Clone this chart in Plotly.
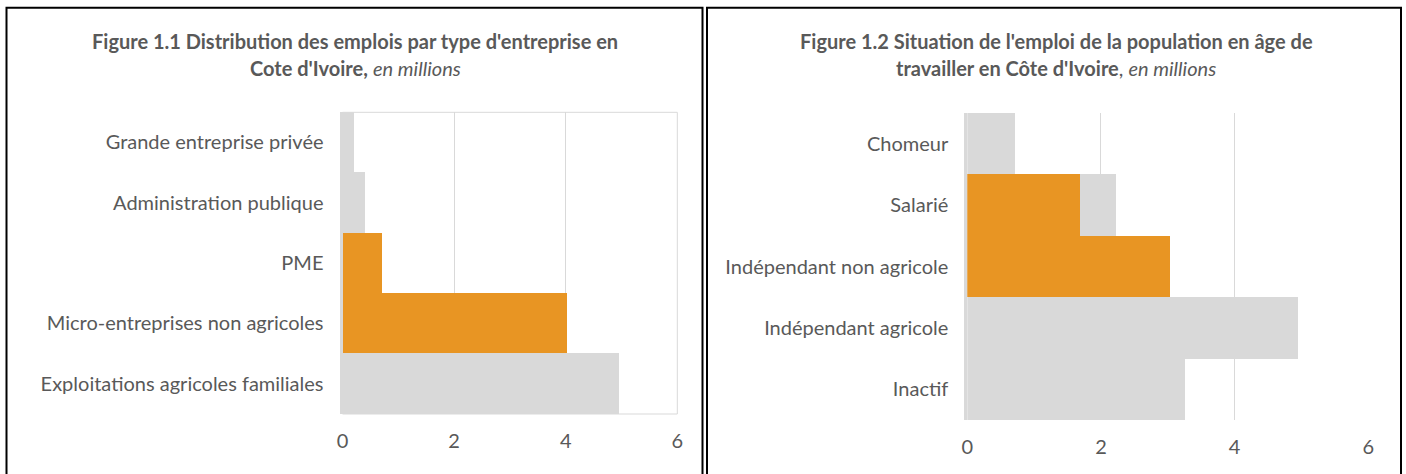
import plotly.graph_objects as go

# ---- data ----
cats1 = ["Grande entreprise privée", "Administration publique", "PME",
         "Micro-entreprises non agricoles", "Exploitations agricoles familiales"]
total1 = [0.19, 0.40, 0.69, 4.02, 4.95]
highlight1 = [None, None, 0.69, 4.02, None]

cats2 = ["Chomeur", "Salarié", "Indépendant non agricole", "Indépendant agricole", "Inactif"]
total2 = [0.72, 2.23, 3.03, 4.95, 3.26]
highlight2 = [None, 1.69, 3.03, None, None]

xticks = [0, 2, 4, 6]

title1_l1 = "<b>Figure 1.1 Distribution des emplois par type d'entreprise en</b>"
title1_l2 = "<b>Cote d'Ivoire,</b> <i>en millions</i>"
title2_l1 = "<b>Figure 1.2 Situation de l'emploi de la population en âge de</b>"
title2_l2 = "<b>travailler en Côte d'Ivoire</b>, <i>en millions</i>"

# ---- style ----
W, H = 1406, 474
GRAY = "#D9D9D9"
ORANGE = "#E89523"
TXT = "#595959"
FONT = "Lato, sans-serif"

def px(x):
    return x / W

def py(y):
    return 1 - y / H

fig = go.Figure()

fig.add_trace(go.Bar(y=cats1, x=total1, orientation="h", marker=dict(color=GRAY, line=dict(width=0)),
                     xaxis="x", yaxis="y", showlegend=False, hoverinfo="x+y"))
fig.add_trace(go.Bar(y=cats1, x=highlight1, orientation="h", marker=dict(color=ORANGE, line=dict(width=0)),
                     xaxis="x", yaxis="y", showlegend=False, hoverinfo="x+y"))
fig.add_trace(go.Bar(y=cats2, x=total2, orientation="h", marker=dict(color=GRAY, line=dict(width=0)),
                     xaxis="x2", yaxis="y2", showlegend=False, hoverinfo="x+y"))
fig.add_trace(go.Bar(y=cats2, x=highlight2, orientation="h", marker=dict(color=ORANGE, line=dict(width=0)),
                     xaxis="x2", yaxis="y2", showlegend=False, hoverinfo="x+y"))

xcommon = dict(range=[0, 6], tickvals=xticks, showgrid=True, gridcolor=GRAY, gridwidth=1,
               zeroline=False, showline=False, ticks="", tickfont=dict(size=20, color=TXT, family=FONT),
               ticklabelstandoff=13, fixedrange=True, automargin=False)
ycommon = dict(autorange="reversed", showgrid=False, zeroline=False, ticks="",
               showline=True, linecolor=GRAY, linewidth=3, layer="above traces",
               tickfont=dict(size=20, color=TXT, family=FONT), ticklabelstandoff=12,
               fixedrange=True, automargin=False)

fig.update_layout(
    template="none",
    width=W, height=H,
    margin=dict(l=0, r=0, t=0, b=0, pad=0),
    paper_bgcolor="white", plot_bgcolor="white",
    barmode="overlay", bargap=0,
    font=dict(family=FONT, color=TXT),
    xaxis=dict(domain=[px(342.5), px(677.3)], anchor="y", **xcommon),
    yaxis=dict(domain=[py(414), py(112.3)], anchor="x", **ycommon),
    xaxis2=dict(domain=[px(967.3), px(1368.3)], anchor="y2", **xcommon),
    yaxis2=dict(domain=[py(420), py(113)], anchor="x2", **ycommon),
)

# plot-area box of the left chart
fig.add_shape(type="rect", xref="x domain", yref="y domain", x0=0, x1=1, y0=0, y1=1,
              line=dict(color=GRAY, width=1), layer="above")

# panel borders
for x0, x1 in [(6.5, 702.5), (707, 1401)]:
    fig.add_shape(type="rect", xref="paper", yref="paper", x0=px(x0), x1=px(x1),
                  y0=-0.1, y1=py(7.7), line=dict(color="black", width=2), layer="above")

# titles
tfont = dict(size=20, color=TXT, family=FONT)
for txt, cx, cy in [(title1_l1, 355, 41), (title1_l2, 355, 68),
                    (title2_l1, 1056, 41), (title2_l2, 1056, 68)]:
    fig.add_annotation(text=txt, x=px(cx), y=py(cy), xref="paper", yref="paper",
                       xanchor="center", yanchor="middle", showarrow=False, font=tfont)

fig.write_html("out.html", config={"displayModeBar": False},
               post_script="document.body.style.margin='0';document.body.style.overflow='hidden';")
